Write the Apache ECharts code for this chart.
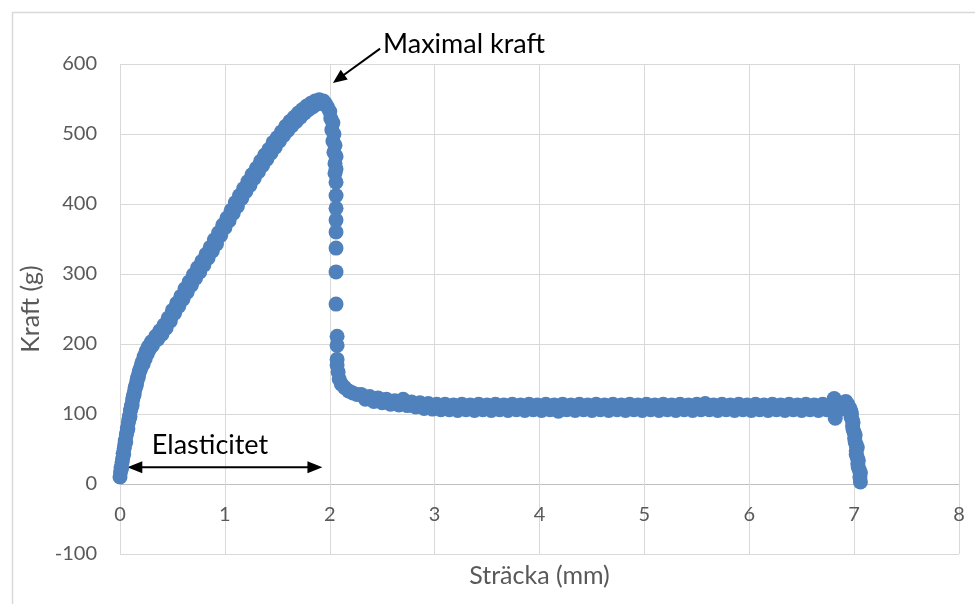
<!DOCTYPE html>
<html>
<head>
<meta charset="utf-8">
<title>Kraft - Sträcka</title>
<script src="https://cdn.jsdelivr.net/npm/echarts@6/dist/echarts.min.js"></script>
<style>
    html,body{margin:0;padding:0;background:#fff;}
    #main{width:975px;height:604px;}
</style>
</head>
<body>
<div id="main"></div>
<script>
// Mätdata: [sträcka (mm), kraft (g)]
var rise = [
    [0.00,10],[0.005,17],[0.01,24],[0.015,22],[0.02,31],[0.025,36],[0.03,44],[0.035,42],
    [0.04,51],[0.045,56],[0.05,62],[0.055,60],[0.06,70],[0.065,74],[0.07,80],[0.075,79],
    [0.08,88],[0.085,92],[0.09,97],[0.095,96],[0.10,105],[0.105,108],[0.11,112],[0.115,112],
    [0.12,120],[0.125,124],[0.13,127],[0.135,128],[0.14,134],[0.145,138],[0.15,140],[0.155,141],
    [0.16,146],[0.165,150],[0.17,152],[0.175,153],[0.18,158],[0.185,161],[0.19,163],[0.195,164],
    [0.20,168],[0.21,174],[0.22,171],[0.23,182],[0.24,179],[0.25,190],[0.26,186],[0.27,196],
    [0.28,192],[0.29,199],[0.30,203],[0.31,198],[0.32,205],[0.34,211],[0.36,207],[0.38,219],
    [0.40,214],[0.42,227],[0.44,223],[0.46,237],[0.48,233],[0.50,248],[0.52,244],[0.54,258],
    [0.56,254],[0.58,268],[0.60,264],[0.62,279],[0.64,274],[0.66,289],[0.68,284],[0.70,299],
    [0.72,294],[0.74,309],[0.76,303],[0.78,318],[0.80,313],[0.82,328],[0.84,323],[0.86,338],
    [0.88,333],[0.90,349],[0.92,343],[0.94,359],[0.96,355],[0.98,370],[1.00,366],[1.02,380],
    [1.04,376],[1.06,391],[1.08,387],[1.10,402],[1.12,397],[1.14,412],[1.16,408],[1.18,422],
    [1.20,418],[1.22,432],[1.24,427],[1.26,442],[1.28,437],[1.30,451],[1.32,446],[1.34,461],
    [1.36,455],[1.38,470],[1.40,464],[1.42,478],[1.44,473],[1.46,488],[1.48,481],[1.50,495],
    [1.52,490],[1.54,503],[1.56,498],[1.58,511],[1.60,505],[1.62,518],[1.64,512],[1.66,524],
    [1.68,518],[1.70,530],[1.72,524],[1.74,535],[1.76,530],[1.78,540],[1.80,535],[1.82,544],
    [1.84,539],[1.86,547],[1.88,543],[1.90,549],[1.92,544],[1.94,547]
];
var drop = [
    [1.96,543],[1.98,538],[2.00,532],[2.01,522],[2.03,516],[2.02,506],[2.04,500],[2.03,490],
    [2.05,484],[2.04,474],[2.06,468],[2.05,458],[2.06,450],[2.05,444],[2.06,431],[2.06,412],
    [2.06,394],[2.06,377],[2.06,360],[2.06,337],[2.06,303],[2.06,257],[2.07,211],[2.07,198],
    [2.07,178],[2.07,170],[2.08,160],[2.09,150],[2.11,143],[2.14,138],[2.18,133],[2.22,130],
    [2.26,128]
];
var plateau = [
    [2.30,128],[2.34,121],[2.38,125],[2.42,118],[2.46,123],[2.50,116],[2.54,121],[2.58,114],
    [2.62,119],[2.66,113],[2.70,121],[2.74,112],[2.78,117],[2.82,110],[2.86,116],[2.90,108],
    [2.94,115],[2.98,107],[3.02,114],[3.06,106],[3.10,114],[3.14,106],[3.18,113],[3.22,105],
    [3.26,114],[3.30,106],[3.34,113],[3.38,105],[3.42,114],[3.46,106],[3.50,113],[3.54,105],
    [3.58,114],[3.62,106],[3.66,113],[3.70,105],[3.74,114],[3.78,106],[3.82,113],[3.86,105],
    [3.90,114],[3.94,106],[3.98,113],[4.02,105],[4.06,114],[4.10,106],[4.14,113],[4.18,104],
    [4.22,114],[4.26,106],[4.30,113],[4.34,105],[4.38,114],[4.42,106],[4.46,113],[4.50,105],
    [4.54,114],[4.58,106],[4.62,113],[4.66,105],[4.70,114],[4.74,106],[4.78,113],[4.82,105],
    [4.86,114],[4.90,106],[4.94,113],[4.98,105],[5.02,114],[5.06,106],[5.10,113],[5.14,105],
    [5.18,114],[5.22,106],[5.26,113],[5.30,105],[5.34,114],[5.38,106],[5.42,113],[5.46,105],
    [5.50,114],[5.54,106],[5.58,115],[5.62,106],[5.66,113],[5.70,105],[5.74,114],[5.78,106],
    [5.82,113],[5.86,105],[5.90,114],[5.94,106],[5.98,113],[6.02,105],[6.06,114],[6.10,106],
    [6.14,113],[6.18,105],[6.22,114],[6.26,106],[6.30,113],[6.34,105],[6.38,114],[6.42,106],
    [6.46,113],[6.50,105],[6.54,114],[6.58,106],[6.62,113],[6.66,105],[6.70,114],[6.74,106],
    [6.78,112]
];
var tail = [
    [6.81,122],[6.82,94],[6.80,108],[6.84,112],[6.86,106],[6.88,112],[6.90,108],[6.92,118],
    [6.94,114],[6.96,108],[6.97,104],[6.975,100],[6.97,96],[6.98,92],[6.99,88],[6.985,83],
    [6.99,78],[7.00,74],[7.01,70],[7.005,65],[7.01,60],[7.02,56],[7.03,52],[7.02,47],
    [7.02,42],[7.03,38],[7.04,34],[7.035,29],[7.04,24],[7.05,20],[7.06,16],[7.055,10],
    [7.06,3]
];

// Axlar och etiketter
var xRange = [0, 8, 1],
    yRange = [-100, 600, 100],
    xTitle = 'Sträcka (mm)',
    yTitle = 'Kraft (g)',
    maxLabel = 'Maximal kraft',
    elastLabel = 'Elasticitet';

// Pilarnas ändpunkter i dataenheter
var maxArrow = [[2.48, 622], [2.03, 573]],
    elastArrow = [[0.07, 24], [1.93, 24]];

var FONT = 'Lato, "Open Sans", sans-serif',
    BLUE = '#4f81bd',
    GRID = '#d9d9d9',
    ZERO = '#bfbfbf';

var chart = echarts.init(document.getElementById('main'));

var option = {
    animation: false,
    backgroundColor: '#fff',
    grid: { left: 120, right: 16, top: 64, bottom: 50, containLabel: false, outerBoundsMode: 'none' },
    xAxis: {
        type: 'value',
        min: xRange[0], max: xRange[1], interval: xRange[2],
        name: xTitle,
        nameLocation: 'middle',
        nameGap: 9,
        nameTextStyle: { color: '#595959', fontSize: 25, fontFamily: FONT },
        axisLine: { show: false },
        axisTick: { show: false },
        // etiketterna ligger vid y = 0, inte vid gridens nederkant
        axisLabel: { color: '#595959', fontSize: 20, fontFamily: FONT, margin: -49 },
        splitLine: { show: true, lineStyle: { color: GRID, width: 1 } }
    },
    yAxis: {
        type: 'value',
        min: yRange[0], max: yRange[1], interval: yRange[2],
        name: yTitle,
        nameLocation: 'middle',
        nameGap: 71,
        nameTextStyle: { color: '#595959', fontSize: 25, fontFamily: FONT },
        axisLine: { show: false },
        axisTick: { show: false },
        axisLabel: { color: '#595959', fontSize: 20, fontFamily: FONT, margin: 23 },
        splitLine: { show: true, lineStyle: { color: [GRID, ZERO, GRID, GRID, GRID, GRID, GRID, GRID], width: 1 } }
    },
    series: [
        {
            name: 'Kraft',
            type: 'scatter',
            symbol: 'circle',
            symbolSize: 15,
            itemStyle: { color: BLUE, opacity: 1 },
            data: rise.concat(drop, plateau, tail)
        }
    ]
};

chart.setOption(option);

// Annoteringar: pilar och text läggs i pixlar via axlarnas skala
var px = function(p){
    return chart.convertToPixel({ gridIndex: 0 }, p);
};

var arrowHead = function(tip, from, len, half){
    var dx = tip[0] - from[0], dy = tip[1] - from[1],
        d = Math.sqrt(dx * dx + dy * dy),
        ux = dx / d, uy = dy / d,
        bx = tip[0] - ux * len, by = tip[1] - uy * len;
    return {
        type: 'polygon',
        shape: { points: [tip, [bx - uy * half, by + ux * half], [bx + uy * half, by - ux * half]] },
        style: { fill: '#000' }
    };
};

var m0 = px(maxArrow[0]), m1 = px(maxArrow[1]),
    e0 = px(elastArrow[0]), e1 = px(elastArrow[1]);

chart.setOption({
    graphic: [
        {
            type: 'rect',
            shape: { x: 12.5, y: 12.5, width: 1000, height: 1000 },
            style: { fill: 'none', stroke: GRID, lineWidth: 1.5 },
            silent: true
        },
        {
            type: 'line',
            shape: { x1: m0[0], y1: m0[1], x2: m1[0] + (m0[0] - m1[0]) * 0.2, y2: m1[1] + (m0[1] - m1[1]) * 0.2 },
            style: { stroke: '#000', lineWidth: 2 }
        },
        arrowHead(m1, m0, 14, 6),
        {
            type: 'line',
            shape: { x1: e0[0] + 12, y1: e0[1], x2: e1[0] - 12, y2: e1[1] },
            style: { stroke: '#000', lineWidth: 2 }
        },
        arrowHead(e0, e1, 15, 6),
        arrowHead(e1, e0, 15, 6),
        {
            type: 'text',
            x: m0[0] + 3, y: m0[1] - 4,
            style: { text: maxLabel, fill: '#000', font: '27px ' + FONT, textAlign: 'left', textVerticalAlign: 'middle' }
        },
        {
            type: 'text',
            x: 210, y: e0[1] - 22,
            style: { text: elastLabel, fill: '#000', font: '27px ' + FONT, textAlign: 'center', textVerticalAlign: 'middle' }
        }
    ]
});
</script>
</body>
</html>
